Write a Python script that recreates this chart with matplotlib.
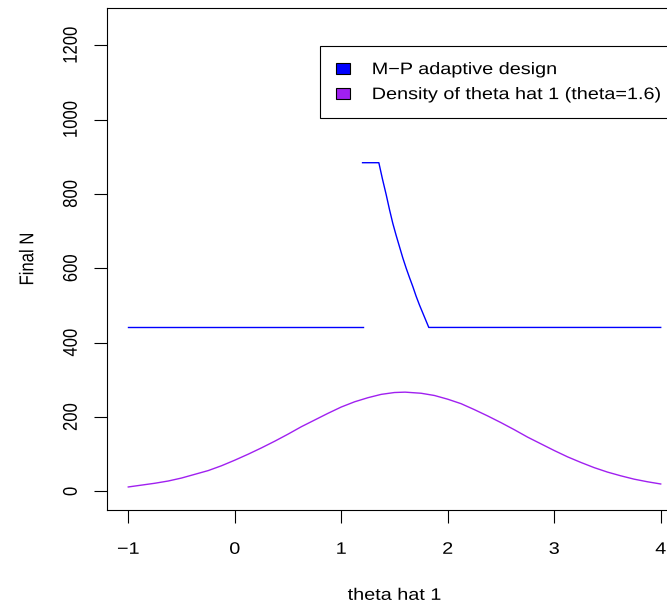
import matplotlib

matplotlib.use("Agg")

import matplotlib.pyplot as plt
from matplotlib.patches import Patch
from matplotlib.patheffects import AbstractPathEffect
from matplotlib.transforms import Affine2D

# --- data --------------------------------------------------------------------
design_left_x = [-1.0, 1.2]
design_left_n = [441, 441]

design_right_x = [1.2, 1.353, 1.387, 1.422, 1.453, 1.484, 1.515, 1.547, 1.578,
                  1.610, 1.641, 1.672, 1.703, 1.735, 1.780, 1.822, 4.0]
design_right_n = [884, 884, 840, 798, 758, 721, 689, 658, 628,
                  600, 575, 551, 525, 501, 470, 441, 441]

density_x = [-1.0, -0.875, -0.75, -0.625, -0.5, -0.375, -0.25, -0.125,
             0.0, 0.125, 0.25, 0.375, 0.5, 0.625, 0.75, 0.875,
             1.0, 1.125, 1.25, 1.375, 1.5, 1.6, 1.75, 1.875,
             2.0, 2.125, 2.25, 2.375, 2.5, 2.625, 2.75, 2.875,
             3.0, 3.125, 3.25, 3.375, 3.5, 3.625, 3.75, 3.875, 4.0]
density_y = [12, 17, 22, 28, 36, 46, 56, 69,
             84, 100, 117, 135, 154, 174, 192, 210,
             227, 241, 252, 261, 266, 267, 264, 258,
             248, 236, 220, 203, 185, 166, 146, 128,
             110, 93, 78, 64, 52, 42, 33, 26, 20]

x_ticks = [-1, 0, 1, 2, 3, 4]
y_ticks = [0, 200, 400, 600, 800, 1000, 1200]

legend_labels = ["M\u2212P adaptive design", "Density of theta hat 1 (theta=1.6)"]
legend_colors = ["#0000FF", "#A020F0"]


class StretchX(AbstractPathEffect):
    """Widen text horizontally, like the resized R device the chart came from."""

    def __init__(self, factor=1.19, anchor="center"):
        super().__init__()
        self.factor = factor
        self.anchor = anchor

    def draw_path(self, renderer, gc, tpath, affine, rgbFace=None):
        ext = tpath.transformed(affine).get_extents()
        x0 = ext.x0 if self.anchor == "left" else 0.5 * (ext.x0 + ext.x1)
        stretch = Affine2D().translate(-x0, 0).scale(self.factor, 1).translate(x0, 0)
        renderer.draw_path(gc, tpath, affine + stretch, rgbFace)


plt.rcParams["font.family"] = ["Liberation Sans", "DejaVu Sans"]
plt.rcParams["font.size"] = 12

fig = plt.figure(figsize=(6.67, 6.03), dpi=100)
ax = fig.add_axes([0.1604, 0.1542, 0.8621, 0.8325])

ax.plot(design_left_x, design_left_n, color=legend_colors[0], lw=1.0)
ax.plot(design_right_x, design_right_n, color=legend_colors[0], lw=1.0)
ax.plot(density_x, density_y, color=legend_colors[1], lw=1.0)

ax.set_xlim(-1.2, 4.2)
ax.set_ylim(-50, 1300)
ax.set_xticks(x_ticks)
ax.set_yticks(y_ticks)
ax.set_xticklabels([str(v).replace("-", "\u2212") for v in x_ticks])
ax.set_yticklabels([str(v) for v in y_ticks])
ax.tick_params(length=9.4, width=0.8, color="black", labelsize=12)
ax.tick_params(axis="x", pad=13.5)
ax.tick_params(axis="y", pad=11, labelrotation=90)
for label in ax.get_yticklabels():
    label.set_va("center")

for spine in ax.spines.values():
    spine.set_linewidth(0.8)
    spine.set_color("black")

ax.set_xlabel("theta hat 1", fontsize=12)
ax.set_ylabel("Final N", fontsize=12)
ax.xaxis.set_label_coords(0.5, -0.155)
ax.yaxis.set_label_coords(-0.125, 0.5)

handles = [Patch(facecolor=c, edgecolor="black", linewidth=0.8) for c in legend_colors]
leg = ax.legend(
    handles,
    legend_labels,
    loc="upper left",
    bbox_to_anchor=(0.3704, 0.9245, 0.62, 0.0),
    bbox_transform=ax.transAxes,
    mode="expand",
    borderaxespad=0,
    borderpad=0.97,
    handlelength=0.85,
    handleheight=0.63,
    handletextpad=1.3,
    labelspacing=0.6,
    fancybox=False,
    framealpha=1,
    edgecolor="black",
    fontsize=12,
)
leg.get_frame().set_linewidth(0.8)
for text in leg.get_texts():
    text.set_path_effects([StretchX(anchor="left")])

for text in ax.get_xticklabels() + ax.get_yticklabels():
    text.set_path_effects([StretchX()])
ax.xaxis.label.set_path_effects([StretchX()])
ax.yaxis.label.set_path_effects([StretchX()])

fig.savefig("out.png", dpi=100)
